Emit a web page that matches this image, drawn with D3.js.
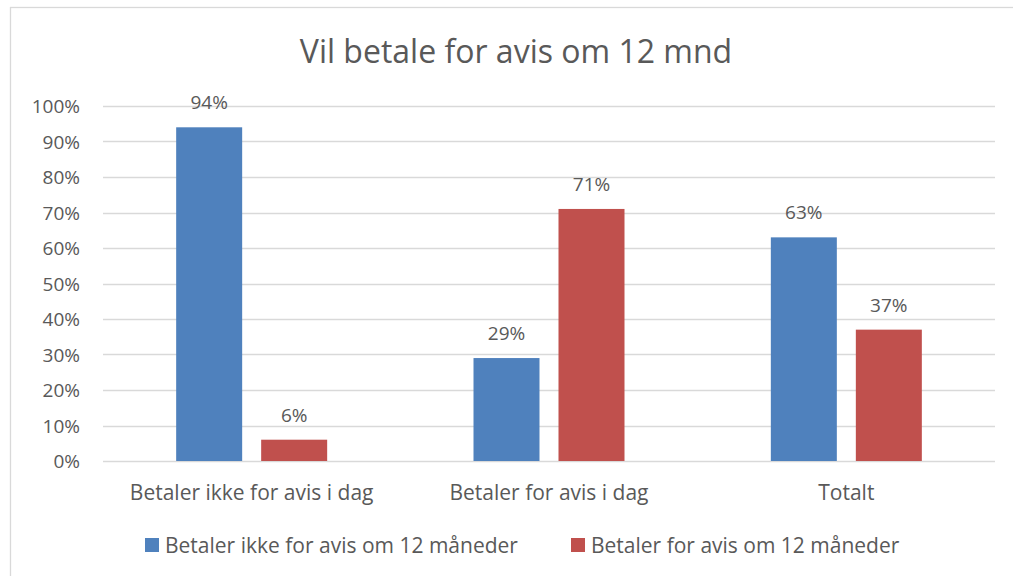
<!DOCTYPE html>
<html>
<head>
<meta charset="utf-8">
<script src="https://cdn.jsdelivr.net/npm/d3@7"></script>
<style>
  body { margin: 0; background: #fff; }
  text { font-family: "Open Sans", "Liberation Sans", sans-serif; fill: #595959; }
</style>
</head>
<body>
<svg id="chart" width="1013" height="576"></svg>
<script>
// chart data
const categories = ["Betaler ikke for avis i dag", "Betaler for avis i dag", "Totalt"];
const seriesNames = ["Betaler ikke for avis om 12 måneder", "Betaler for avis om 12 måneder"];
const notPaying = [94, 29, 63];
const paying = [6, 71, 37];
const yTicks = [0, 10, 20, 30, 40, 50, 60, 70, 80, 90, 100];
const colors = ["#4F81BD", "#C0504D"];

const svg = d3.select("#chart");
const margin = {top: 106, right: 18, bottom: 115, left: 103};
const width = 1013 - margin.left - margin.right,
      height = 576 - margin.top - margin.bottom;

// outer frame (right and bottom edges fall outside the picture)
svg.append("rect")
  .attr("x", 10.5).attr("y", 7.5)
  .attr("width", 1100).attr("height", 700)
  .attr("fill", "none").attr("stroke", "#d9d9d9").attr("stroke-width", 1.3);

svg.append("text")
  .attr("x", 516).attr("y", 63)
  .attr("text-anchor", "middle")
  .style("font-size", "32px")
  .text("Vil betale for avis om 12 mnd");

const g = svg.append("g").attr("transform", `translate(${margin.left},${margin.top})`);

const x = d3.scaleBand().domain(categories).range([0, width]);
const y = d3.scaleLinear().domain([0, 100]).range([height, 0]);

// gridlines
g.selectAll(".grid")
  .data(yTicks)
  .enter().append("line")
    .attr("x1", 0).attr("x2", width)
    .attr("y1", d => Math.round(y(d)) + 0.5).attr("y2", d => Math.round(y(d)) + 0.5)
    .attr("stroke", "#d9d9d9").attr("stroke-width", 1.3);

// y labels
g.selectAll(".ylab")
  .data(yTicks)
  .enter().append("text")
    .attr("x", -23).attr("y", d => y(d) + 7)
    .attr("text-anchor", "end")
    .style("font-size", "19px")
    .text(d => d + "%");

const barW = 66, gap = 19;
const rows = categories.map((c, i) => ({cat: c, vals: [notPaying[i], paying[i]]}));

rows.forEach(r => {
  const cx = x(r.cat) + x.bandwidth() / 2;
  r.vals.forEach((v, s) => {
    const bx = s === 0 ? cx - gap / 2 - barW : cx + gap / 2;
    g.append("rect")
      .attr("x", bx).attr("y", y(v))
      .attr("width", barW).attr("height", height - y(v))
      .attr("fill", colors[s]);
    g.append("text")
      .attr("x", bx + barW / 2).attr("y", y(v) - 18)
      .attr("text-anchor", "middle")
      .style("font-size", "19px")
      .text(v + "%");
  });
});

// category labels
g.selectAll(".xlab")
  .data(categories)
  .enter().append("text")
    .attr("x", d => x(d) + x.bandwidth() / 2)
    .attr("y", height + 39)
    .attr("text-anchor", "middle")
    .style("font-size", "21px")
    .text(d => d);

// legend
const legendX = [145, 571];
seriesNames.forEach((name, i) => {
  svg.append("rect")
    .attr("x", legendX[i]).attr("y", 538)
    .attr("width", 14).attr("height", 14)
    .attr("fill", colors[i]);
  svg.append("text")
    .attr("x", legendX[i] + 20).attr("y", 553)
    .style("font-size", "21px")
    .text(name);
});
</script>
</body>
</html>
